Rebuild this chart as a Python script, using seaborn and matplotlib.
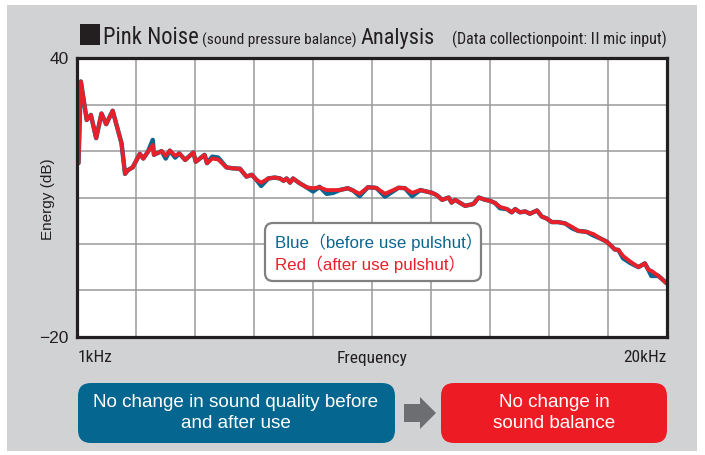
import pandas as pd
import seaborn as sns
import matplotlib.pyplot as plt
from matplotlib import font_manager as fm
from matplotlib.patches import Rectangle, FancyBboxPatch, Polygon
from matplotlib.transforms import IdentityTransform

# grid divisions from 1kHz (0) to 20kHz (10)
band = [0.02, 0.06, 0.16, 0.23, 0.32, 0.41, 0.49, 0.60, 0.75, 0.81, 0.86, 0.94,
        1.06, 1.12, 1.20, 1.28, 1.30, 1.43, 1.50, 1.57, 1.66, 1.73, 1.83, 1.97,
        2.01, 2.16, 2.20, 2.29, 2.39, 2.53, 2.63, 2.76, 2.87, 2.96, 3.04, 3.12,
        3.24, 3.35, 3.44, 3.50, 3.55, 3.61, 3.66, 3.77, 3.89, 4.00, 4.11, 4.23,
        4.34, 4.45, 4.59, 4.68, 4.79, 4.93, 5.05, 5.08, 5.22, 5.45, 5.56, 5.68,
        5.82, 6.02, 6.10, 6.19, 6.30, 6.35, 6.41, 6.50, 6.58, 6.72, 6.81, 6.92,
        7.00, 7.09, 7.17, 7.29, 7.37, 7.43, 7.51, 7.60, 7.68, 7.80, 7.88, 7.96,
        8.05, 8.16, 8.28, 8.39, 8.50, 8.64, 8.76, 8.87, 8.98, 9.04, 9.12, 9.18,
        9.26, 9.38, 9.52, 9.63, 9.69, 9.74, 9.86, 10.0]

red_db = [17.4, 35.0, 26.7, 27.8, 22.8, 28.1, 25.8, 28.7, 21.7, 15.1, 15.9, 16.5,
          19.4, 18.4, 19.9, 21.3, 19.2, 20.0, 19.0, 20.1, 19.0, 19.5, 18.1, 19.7,
          17.7, 19.2, 17.4, 18.4, 18.2, 16.5, 16.3, 16.2, 14.5, 14.9, 13.8, 13.2,
          14.1, 14.3, 14.1, 13.6, 14.1, 13.2, 14.1, 13.1, 12.2, 12.0, 12.2, 11.6,
          11.6, 11.6, 12.0, 11.5, 10.8, 12.2, 12.1, 12.0, 10.8, 12.1, 12.0, 11.0,
          11.6, 11.0, 10.5, 9.5, 10.0, 8.9, 9.5, 8.8, 8.2, 8.6, 10.0, 9.5,
          9.3, 8.8, 8.0, 7.5, 6.8, 7.5, 6.8, 7.0, 6.5, 7.2, 5.9, 5.5,
          4.7, 4.7, 4.4, 3.7, 2.8, 2.6, 2.1, 1.2, 0.5, -0.2, -1.2, -1.3,
          -2.6, -3.8, -5.0, -4.2, -5.6, -5.8, -6.9, -8.5]

blue_db = [17.4, 35.0, 26.7, 27.8, 22.8, 28.1, 25.8, 28.7, 21.7, 15.1, 15.9, 16.5,
           19.4, 18.4, 19.9, 22.4, 19.2, 20.0, 18.4, 20.1, 18.6, 19.5, 18.1, 19.7,
           17.7, 19.2, 17.4, 18.8, 18.6, 16.5, 16.3, 16.2, 14.5, 14.9, 13.8, 12.5,
           14.1, 14.3, 14.1, 13.6, 14.1, 13.2, 14.1, 13.1, 12.2, 11.3, 12.3, 10.8,
           11.0, 11.6, 12.0, 11.5, 10.3, 12.2, 12.1, 12.0, 10.2, 12.1, 12.0, 10.3,
           11.6, 11.0, 10.5, 9.5, 10.0, 8.9, 9.5, 8.8, 8.2, 8.6, 10.0, 9.5,
           9.3, 8.8, 7.7, 7.5, 6.8, 7.5, 6.8, 7.0, 6.5, 7.2, 5.9, 5.5,
           4.7, 4.7, 4.4, 3.4, 2.8, 2.6, 1.8, 1.2, 0.5, -0.2, -1.2, -1.3,
           -3.1, -4.1, -5.0, -4.2, -5.6, -6.9, -6.9, -8.5]

y_ticks = [-20, -10, 0, 10, 20, 30, 40]
y_labels = ['−20', '', '', '', '', '', '40']

BLUE = '#0a6690'
RED = '#e8202a'
INK = '#231f20'

# condensed face if the system has one, otherwise plain Liberation Sans a bit smaller
have = {f.name for f in fm.fontManager.ttflist}
narrow_name = next((n for n in ['Liberation Sans Narrow', 'DejaVu Sans Condensed',
                                'Roboto Condensed', 'Open Sans Condensed']
                    if n in have), None)
if narrow_name:
    NARROW, NK = [narrow_name, 'Noto Sans CJK JP'], 1.0
else:
    NARROW, NK = ['Liberation Sans', 'Noto Sans CJK JP'], 0.84
REG = ['Liberation Sans', 'Noto Sans CJK JP']

df = pd.DataFrame({'band': band, 'before': blue_db, 'after': red_db})

sns.set_style('white')
plt.rcParams['font.family'] = REG

W, H = 705, 455
fig = plt.figure(figsize=(W / 100, H / 100), dpi=100, facecolor='white')
px = IdentityTransform()


def P(x, y):
    return x, H - y


# grey panel
fig.patches.append(Rectangle(P(7, 451), 690, 446, transform=px,
                             facecolor='#d1d2d4', edgecolor='none', zorder=-5))

ax = fig.add_axes([77.3 / W, 1 - 336.7 / H, 589.4 / W, 278.4 / H], zorder=2)
ax.set_facecolor('white')
sns.lineplot(data=df, x='band', y='before', color=BLUE, lw=3.2, ax=ax, zorder=3)
sns.lineplot(data=df, x='band', y='after', color=RED, lw=2.8, ax=ax, zorder=4)
ax.set_xlim(0, 10)
ax.set_ylim(-20, 40)
ax.set_xticks(range(11))
ax.set_xticklabels([])
ax.set_yticks(y_ticks)
ax.set_yticklabels(y_labels, fontsize=12.5, color=INK)
ax.tick_params(length=0, pad=6)
ax.grid(True, color='#9a9a9a', lw=1.1)
ax.set_axisbelow(True)
ax.set_xlabel('')
ax.set_ylabel('')
for s in ax.spines.values():
    s.set_visible(True)
    s.set_color(INK)
    s.set_linewidth(2.3)
    s.set_zorder(6)

fig.text(*P(48, 199), 'Energy (dB)', transform=px, rotation=90, fontsize=11,
         ha='center', va='center', color=INK)
fig.text(*P(78, 358), '1kHz', transform=px, fontsize=12.5 * NK, family=NARROW,
         ha='left', va='center', color=INK)
fig.text(*P(372, 358), 'Frequency', transform=px, fontsize=12.5 * NK, family=NARROW,
         ha='center', va='center', color=INK)
fig.text(*P(667, 358), '20kHz', transform=px, fontsize=12.5 * NK, family=NARROW,
         ha='right', va='center', color=INK)

# title
fig.patches.append(Rectangle(P(80, 45), 20, 21, transform=px,
                             facecolor=INK, edgecolor='none'))
t1 = fig.text(*P(103, 49), 'Pink Noise', transform=px, fontsize=16.3 * NK,
              family=NARROW, ha='left', va='bottom', color=INK)
a2 = ax.annotate('(sound pressure balance)', xy=(1, 0), xycoords=t1,
                 xytext=(2.5, 1), textcoords='offset points', fontsize=11.1 * NK,
                 family=NARROW, va='bottom', color=INK, annotation_clip=False)
ax.annotate('Analysis', xy=(1, 0), xycoords=a2, xytext=(2.5, -1),
            textcoords='offset points', fontsize=16.0 * NK, family=NARROW,
            va='bottom', color=INK, annotation_clip=False)
fig.text(*P(667, 48), '(Data collectionpoint:Ⅱmic input)', transform=px,
         fontsize=11.5 * NK, family=NARROW, ha='right', va='bottom', color=INK)

# legend box
fig.patches.append(FancyBboxPatch(P(265, 281), 216, 58, transform=px,
                                  boxstyle='round,pad=0,rounding_size=8',
                                  facecolor='white', edgecolor='#808080',
                                  lw=1.6, zorder=7))
fig.text(*P(275, 242), 'Blue（before use pulshut）', transform=px, fontsize=12.2,
         color=BLUE, ha='left', va='center', zorder=8)
fig.text(*P(275, 264), 'Red（after use pulshut）', transform=px, fontsize=12.2,
         color=RED, ha='left', va='center', zorder=8)

# bottom boxes
fig.patches.append(FancyBboxPatch(P(78, 443), 317, 60, transform=px,
                                  boxstyle='round,pad=0,rounding_size=13',
                                  facecolor='#05668f', edgecolor='none'))
fig.text(*P(236, 413), 'No change in sound quality before\nand after use',
         transform=px, fontsize=13.6, color='white', ha='center', va='center',
         linespacing=1.25)
fig.patches.append(FancyBboxPatch(P(441, 443), 226, 60, transform=px,
                                  boxstyle='round,pad=0,rounding_size=13',
                                  facecolor='#ed1c24', edgecolor='none'))
fig.text(*P(554, 413), 'No change in\nsound balance',
         transform=px, fontsize=13.6, color='white', ha='center', va='center',
         linespacing=1.25)
arrow = [P(404, 404), P(420, 404), P(420, 397), P(436, 413), P(420, 429),
         P(420, 422), P(404, 422)]
fig.patches.append(Polygon(arrow, closed=True, transform=px,
                           facecolor='#6d6e71', edgecolor='none'))

fig.savefig('out.png', dpi=100, facecolor='white')
